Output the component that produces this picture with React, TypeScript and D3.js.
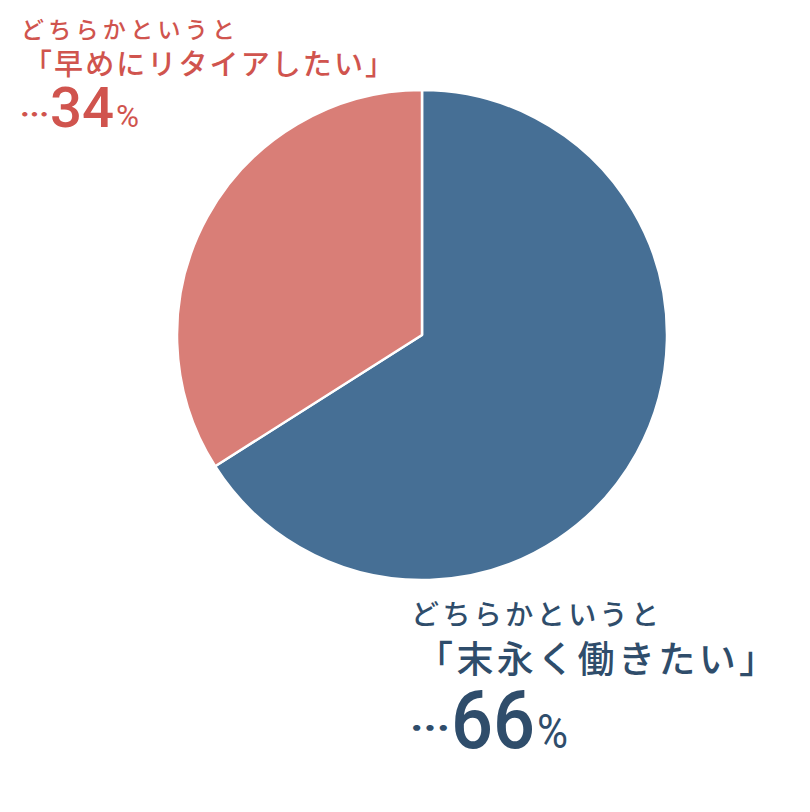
import React from "react";
import * as d3 from "d3";

const categories = ["末永く働きたい", "早めにリタイアしたい"];
const values = [66, 34];
const prefixLabel = "どちらかというと";
const sliceColors = ["#466f95", "#d97e77"];
const textColors = ["#2f4d6b", "#d0544e"];

const W = 810;
const H = 812;
const cx = 422;
const cy = 335;
const R = 245;

const JP = "'Noto Sans CJK JP', 'Noto Sans', sans-serif";
const NUM = "Roboto, 'Noto Sans', sans-serif";

export default function App() {
  const pie = d3
    .pie<number>()
    .sort(null)
    .startAngle(0)
    .endAngle(Math.PI * 2)
    .value((d) => d);
  const arcs = pie(values);
  const arc = d3.arc<d3.PieArcDatum<number>>().innerRadius(0).outerRadius(R);

  return (
    <svg
      width={W}
      height={H}
      style={{ position: "absolute", left: 0, top: 0, background: "#fff" }}
    >
      <g transform={`translate(${cx},${cy})`}>
        {arcs.map((a, i) => (
          <path
            key={i}
            d={arc(a) || ""}
            fill={sliceColors[i]}
            stroke="#ffffff"
            strokeWidth={2.5}
            strokeLinejoin="round"
          />
        ))}
      </g>

      {/* Top-left label: 早めにリタイアしたい */}
      <g fill={textColors[1]} fontFamily={JP} fontWeight={500}>
        <text x={21} y={27.5} fontSize={23} dominantBaseline="central" textLength={214} lengthAdjust="spacing">
          {prefixLabel}
        </text>
        <text x={23} y={62} fontSize={29} dominantBaseline="central" textLength={371} lengthAdjust="spacing">
          {`「${categories[1]}」`}
        </text>
        <text x={20} y={124} fontSize={25} fontWeight={900} textLength={29} lengthAdjust="spacingAndGlyphs">
          …
        </text>
        <text x={50} y={127} fontSize={56} fontFamily={NUM} fontWeight={500} textLength={64} lengthAdjust="spacingAndGlyphs">
          {String(values[1])}
        </text>
        <text x={116} y={127} fontSize={31} fontFamily={NUM} fontWeight={400} textLength={23} lengthAdjust="spacingAndGlyphs">
          %
        </text>
      </g>

      {/* Bottom-right label: 末永く働きたい */}
      <g fill={textColors[0]} fontFamily={JP} fontWeight={500}>
        <text x={411} y={613} fontSize={28} dominantBaseline="central" textLength={248} lengthAdjust="spacing">
          {prefixLabel}
        </text>
        <text x={416} y={657} fontSize={37} dominantBaseline="central" textLength={360} lengthAdjust="spacing">
          {`「${categories[0]}」`}
        </text>
        <text x={410} y={740} fontSize={32} fontWeight={900} textLength={40} lengthAdjust="spacingAndGlyphs">
          …
        </text>
        <text x={451} y={748} fontSize={82} fontFamily={NUM} fontWeight={500} textLength={84} lengthAdjust="spacingAndGlyphs">
          {String(values[0])}
        </text>
        <text x={537} y={748} fontSize={48} fontFamily={NUM} fontWeight={400} textLength={31} lengthAdjust="spacingAndGlyphs">
          %
        </text>
      </g>
    </svg>
  );
}
